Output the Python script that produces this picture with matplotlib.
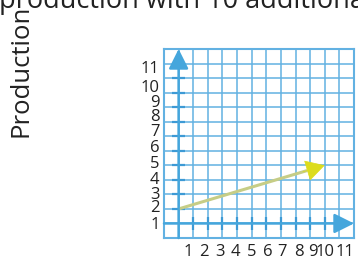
import matplotlib
matplotlib.use("Agg")
import matplotlib.pyplot as plt

plt.rcParams['font.family'] = ['Open Sans', 'DejaVu Sans']

# chart data
title_text = "production with 10 additional"
y_title = "Production"
x_labels = ["1", "2", "3", "4", "5", "6", "7", "8", "9", "10", "11"]
x_label_pos = [0.68, 1.71, 2.81, 3.90, 5.0, 6.1, 7.1, 8.2, 9.2, 10.0, 11.4]
y_labels = ["1", "2", "3", "4", "5", "6", "7", "8", "9", "10", "11"]
y_label_pos = [-0.14, 1.03, 1.99, 3.0, 4.1, 5.2, 6.3, 7.3, 8.3, 9.35, 10.6]
tick_marks = [1, 2, 3, 4, 5, 6, 7, 8, 9, 10]
line_x = [0, 10]
line_y = [1, 4]

GRID = '#62b1e2'
AXIS = '#45a6dc'
TICK = '#3d9ad5'

fig = plt.figure(figsize=(3.58, 2.61), dpi=100)
ax = fig.add_axes([164 / 358, 23 / 261, 190 / 358, 189 / 261])
ax.set_xlim(-1, 12)
ax.set_ylim(-1, 12)
ax.set_xticks(range(-1, 13))
ax.set_yticks(range(-1, 13))
ax.tick_params(length=0, labelbottom=False, labelleft=False)
ax.grid(True, color=GRID, lw=1.1)
for sp in ax.spines.values():
    sp.set_color(GRID)
    sp.set_linewidth(1.5)

# axes with arrow heads
arrow = dict(arrowstyle='-|>,head_length=1.2,head_width=0.6', mutation_scale=10,
             color=AXIS, lw=1.8, shrinkA=0, shrinkB=0)
ax.annotate('', xy=(0, 12), xytext=(0, -1), arrowprops=arrow)
ax.annotate('', xy=(12, 0), xytext=(-1, 0), arrowprops=arrow)

# tick dashes
for t in tick_marks:
    ax.plot([-0.45, 0.45], [t, t], color=TICK, lw=1.6, solid_capstyle='butt')
    ax.plot([t, t], [-0.45, 0.45], color=TICK, lw=1.6, solid_capstyle='butt')

# yellow line with head
dx = line_x[1] - line_x[0]
dy = line_y[1] - line_y[0]
f = 0.88
ax.plot([line_x[0], line_x[0] + f * dx], [line_y[0], line_y[0] + f * dy],
        color='#c6cd86', lw=2.2, solid_capstyle='butt')
ax.annotate('', xy=(line_x[1], line_y[1]),
            xytext=(line_x[0] + 0.85 * dx, line_y[0] + 0.85 * dy),
            arrowprops=dict(arrowstyle='-|>,head_length=1.25,head_width=0.7',
                            mutation_scale=10, color='#dcdc1e', lw=0.5,
                            shrinkA=0, shrinkB=0))

# tick labels
for lab, pos in zip(x_labels, x_label_pos):
    ax.text(pos, -1.95, lab, ha='center', va='center', fontsize=12, color='#222222',
            clip_on=False)
for lab, pos in zip(y_labels, y_label_pos):
    ax.text(-1.3, pos, lab, ha='right', va='center', fontsize=12, color='#222222',
            clip_on=False)

fig.text(21 / 358, 1 - 71 / 261, y_title, rotation=90, ha='center', va='center',
         fontsize=18.5, color='#222222')
fig.text(-0.003, 1 - 8 / 261, title_text, ha='left', va='baseline', fontsize=19.5,
         color='#222222')

fig.savefig('out.png', dpi=100)
